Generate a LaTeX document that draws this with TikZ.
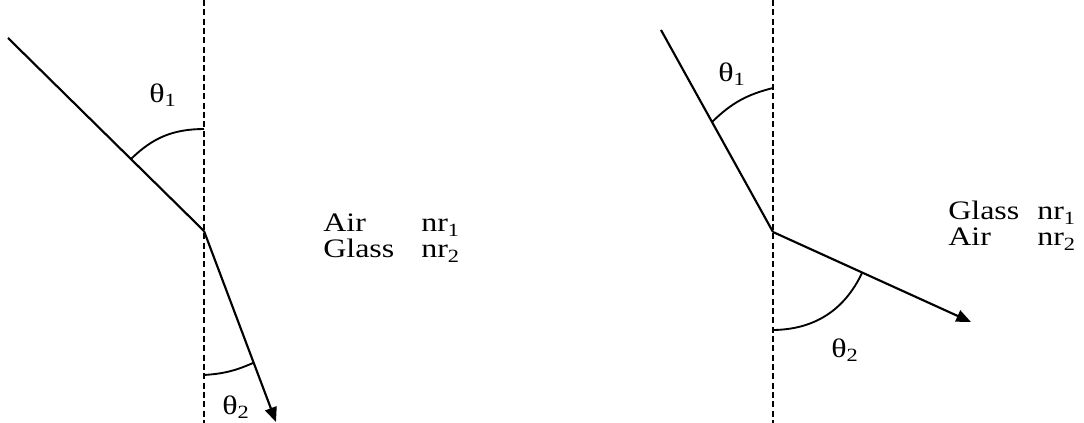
\documentclass[tikz,border=0pt]{standalone}
\usepackage{fontspec}
\setmainfont{Liberation Serif}[FakeStretch=1.2]
\usetikzlibrary{arrows.meta}

\begin{document}
\begin{tikzpicture}[x=0.75pt,y=-0.75pt,
    ray/.style={line width=1.6pt},
    normal/.style={line width=1.4pt,dash pattern=on 4.5pt off 2.5pt},
    ang/.style={line width=1.4pt},
    lbl/.style={font=\fontsize{20}{22}\selectfont,inner sep=0pt},
    tip/.style={-{Triangle[length=11pt,width=9pt]}}]
    \useasboundingbox (0,0) rectangle (1084,423);

    % left: air into glass
    \coordinate (topL) at (204,0);
    \coordinate (botL) at (204,423);
    \coordinate (srcL) at (8,38);
    \coordinate (hitL) at (204,231);
    \coordinate (endL) at (276,422);
    \draw[normal] (topL) -- (botL);
    \draw[ray] (srcL) -- (hitL);
    \draw[ray,tip] (hitL) -- (endL);
    \draw[ang] (131,159) to[bend left=22] (204,129);
    \draw[ang] (204,375) to[bend right=10] (253,363);
    \node[lbl] (thetaAL) at (163,95) {θ\textsubscript{1}};
    \node[lbl] (thetaBL) at (236,407) {θ\textsubscript{2}};
    \node[lbl,anchor=base west] (airL) at (323,232) {Air};
    \node[lbl,anchor=base west] (nAirL) at (421,232) {nr\textsubscript{1}};
    \node[lbl,anchor=base west] (glassL) at (323,258) {Glass};
    \node[lbl,anchor=base west] (nGlassL) at (421,258) {nr\textsubscript{2}};

    % right: glass into air
    \coordinate (topR) at (773,0);
    \coordinate (botR) at (773,423);
    \coordinate (srcR) at (661,30);
    \coordinate (hitR) at (773,232);
    \coordinate (endR) at (971,322);
    \draw[normal] (topR) -- (botR);
    \draw[ray] (srcR) -- (hitR);
    \draw[ray,tip] (hitR) -- (endR);
    \draw[ang] (712,122) to[bend left=15] (773,88);
    \draw[ang] (773,330) to[bend right=32] (862,273);
    \node[lbl] (thetaAR) at (732,74) {θ\textsubscript{1}};
    \node[lbl] (thetaBR) at (845,350) {θ\textsubscript{2}};
    \node[lbl,anchor=base west] (glassR) at (948,220) {Glass};
    \node[lbl,anchor=base west] (nGlassR) at (1037,220) {nr\textsubscript{1}};
    \node[lbl,anchor=base west] (airR) at (948,246) {Air};
    \node[lbl,anchor=base west] (nAirR) at (1037,246) {nr\textsubscript{2}};
\end{tikzpicture}
\end{document}
